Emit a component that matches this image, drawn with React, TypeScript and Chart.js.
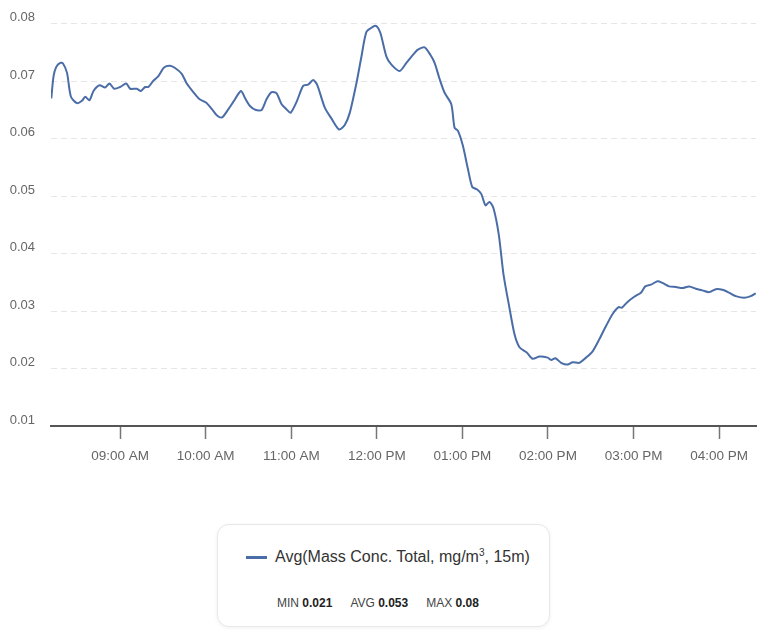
import React, { useEffect, useRef } from "react";
import { Chart, registerables } from "chart.js";

Chart.register(...registerables);

// minutes since midnight
const times: number[] = [
  491.7, 493.3, 495.2, 498, 499.9, 502.7, 505.5, 509.7, 513.2, 515.5, 518.5, 521.3, 525.5, 529.5, 532.5,
  535.8, 540, 544.2, 547, 551.7, 554.5, 557.5, 559.8, 563.3, 566.8, 570.8, 575, 578.5, 583.2, 586.7,
  591.3, 595.5, 600.2, 604.2, 607.7, 611.4, 615.8, 619.3, 624.7, 627.5, 631, 635.2, 639.2, 642.7,
  646.2, 649.7, 653.2, 656.7, 659.5, 663.7, 668.3, 671.8, 675.3, 678.1, 683.5, 688.2, 693.5, 697.5,
  701, 705.7, 709.2, 712.7, 717.3, 719.7, 722.5, 726.7, 730.2, 736, 740.7, 745.3, 748.8, 753.5,
  757.5, 760.5, 764, 767.5, 772.2, 774.5, 776.8, 780.3, 783.8, 786.9, 790.1, 793.2, 796.2, 799,
  801.8, 805.5, 808.8, 812.5, 816.5, 820, 825.1, 829.3, 834, 839.8, 842.2, 845.2, 849.2, 853.8,
  857.3, 862, 866.7, 871.3, 876, 880.7, 885.3, 889.5, 891.9, 895.8, 900.5, 905.2, 908.2, 912.2,
  916.8, 920.3, 925, 929.7, 934.3, 939, 943.7, 948.3, 953, 957.7, 962.3, 967, 971.7, 977.5, 982.2, 985.7,
];

const values: number[] = [
  0.067, 0.0709, 0.0725, 0.0732, 0.0731, 0.0715, 0.0673, 0.0662, 0.0666, 0.0673, 0.0667, 0.0683, 0.0693, 0.0689, 0.0696,
  0.0687, 0.069, 0.0696, 0.0687, 0.0687, 0.0683, 0.069, 0.069, 0.0701, 0.0709, 0.0724, 0.0727, 0.0723, 0.0713, 0.0696,
  0.0681, 0.0669, 0.0663, 0.0652, 0.0641, 0.0637, 0.0651, 0.0664, 0.0683, 0.0671, 0.0657, 0.065, 0.065, 0.0669,
  0.0681, 0.0679, 0.066, 0.0651, 0.0645, 0.0664, 0.0692, 0.0694, 0.0702, 0.0694, 0.0654, 0.0635, 0.0616, 0.0624,
  0.0645, 0.0697, 0.0743, 0.0786, 0.0795, 0.0796, 0.0784, 0.0743, 0.0729, 0.0718, 0.0732, 0.0746, 0.0755, 0.0759,
  0.0746, 0.0732, 0.0704, 0.068, 0.066, 0.0619, 0.0614, 0.0588, 0.0548, 0.0516, 0.0512, 0.0504, 0.0484, 0.049,
  0.0479, 0.0433, 0.0364, 0.0312, 0.026, 0.0237, 0.0228, 0.0217, 0.0221, 0.0219, 0.0215, 0.0218, 0.021, 0.0207,
  0.0211, 0.021, 0.0219, 0.023, 0.0251, 0.0274, 0.0295, 0.0307, 0.0306, 0.0316, 0.0325, 0.0332, 0.0343, 0.0346,
  0.0352, 0.0349, 0.0343, 0.0342, 0.034, 0.0343, 0.0339, 0.0336, 0.0333, 0.0338, 0.0337, 0.0332, 0.0326, 0.0323, 0.0326, 0.0331,
];

const xTickMinutes: number[] = [540, 600, 660, 720, 780, 840, 900, 960];
const xTickLabels: string[] = [
  "09:00 AM", "10:00 AM", "11:00 AM", "12:00 PM", "01:00 PM", "02:00 PM", "03:00 PM", "04:00 PM",
];
const yTicks: number[] = [0.01, 0.02, 0.03, 0.04, 0.05, 0.06, 0.07, 0.08];

const seriesName = "Avg(Mass Conc. Total, mg/m";
const statMin = "0.021";
const statAvg = "0.053";
const statMax = "0.08";

const FONT = "'Liberation Sans', Arial, sans-serif";
const LINE = "#4a6da7";

export default function App() {
  const ref = useRef<HTMLCanvasElement | null>(null);

  useEffect(() => {
    if (!ref.current) return;
    const chart = new Chart(ref.current, {
      type: "line",
      data: {
        datasets: [
          {
            label: seriesName,
            data: times.map((t, i) => ({ x: t, y: values[i] })),
            borderColor: LINE,
            borderWidth: 2,
            pointRadius: 0,
            tension: 0.25,
            fill: false,
          },
        ],
      },
      options: {
        animation: false,
        responsive: false,
        maintainAspectRatio: false,
        layout: { padding: { top: 20, left: 0, right: 0, bottom: 0 } },
        plugins: { legend: { display: false }, tooltip: { enabled: false } },
        scales: {
          x: {
            type: "linear",
            min: 491.5,
            max: 986,
            afterFit: (s: any) => {
              s.height = 54;
            },
            afterBuildTicks: (s: any) => {
              s.ticks = xTickMinutes.map((v) => ({ value: v }));
            },
            grid: {
              drawOnChartArea: false,
              drawTicks: true,
              tickLength: 13,
              tickWidth: 1.5,
              tickColor: "#777",
            },
            border: { display: true, color: "#555", width: 2 },
            ticks: {
              padding: 9,
              color: "#666",
              font: { family: FONT, size: 13.5 },
              maxRotation: 0,
              autoSkip: false,
              callback: (v: any) => {
                const i = xTickMinutes.indexOf(Number(v));
                return i >= 0 ? xTickLabels[i] : "";
              },
            },
          },
          y: {
            min: 0.01,
            max: 0.08,
            afterFit: (s: any) => {
              s.width = 51;
            },
            afterBuildTicks: (s: any) => {
              s.ticks = yTicks.map((v) => ({ value: v }));
            },
            grid: {
              drawTicks: false,
              color: "#e6e6e6",
              lineWidth: 1,
            },
            border: { display: false, dash: [6, 4] },
            ticks: {
              padding: 16,
              labelOffset: -6,
              color: "#666",
              font: { family: FONT, size: 13 },
              callback: (v: any) => Number(v).toFixed(2),
            },
          },
        },
      },
    });
    return () => chart.destroy();
  }, []);

  return (
    <div style={{ position: "absolute", left: 0, top: 0, width: 757, height: 630, background: "#fff" }}>
      <canvas ref={ref} width={757} height={480} style={{ display: "block", width: 757, height: 480 }} />
      <div
        style={{
          position: "absolute",
          left: 217,
          top: 524,
          width: 333,
          height: 103,
          boxSizing: "border-box",
          border: "1px solid #e8e8e8",
          borderRadius: 12,
          boxShadow: "0 1px 4px rgba(0,0,0,0.06)",
          background: "#fff",
          fontFamily: FONT,
        }}
      >
        <div
          style={{
            position: "absolute",
            left: 28,
            top: 31,
            width: 21,
            height: 3,
            background: LINE,
          }}
        />
        <div
          style={{
            position: "absolute",
            left: 57,
            top: 22,
            fontSize: 16,
            lineHeight: "20px",
            color: "#333",
            whiteSpace: "nowrap",
          }}
        >
          {seriesName}
          <sup style={{ fontSize: 10, lineHeight: 0 }}>3</sup>, 15m)
        </div>
        <div
          style={{
            position: "absolute",
            left: 59,
            top: 71,
            fontSize: 12,
            lineHeight: "15px",
            color: "#444",
            whiteSpace: "nowrap",
          }}
        >
          MIN <b style={{ color: "#222" }}>{statMin}</b>
          <span style={{ marginLeft: 18 }}>AVG </span>
          <b style={{ color: "#222" }}>{statAvg}</b>
          <span style={{ marginLeft: 18 }}>MAX </span>
          <b style={{ color: "#222" }}>{statMax}</b>
        </div>
      </div>
    </div>
  );
}
